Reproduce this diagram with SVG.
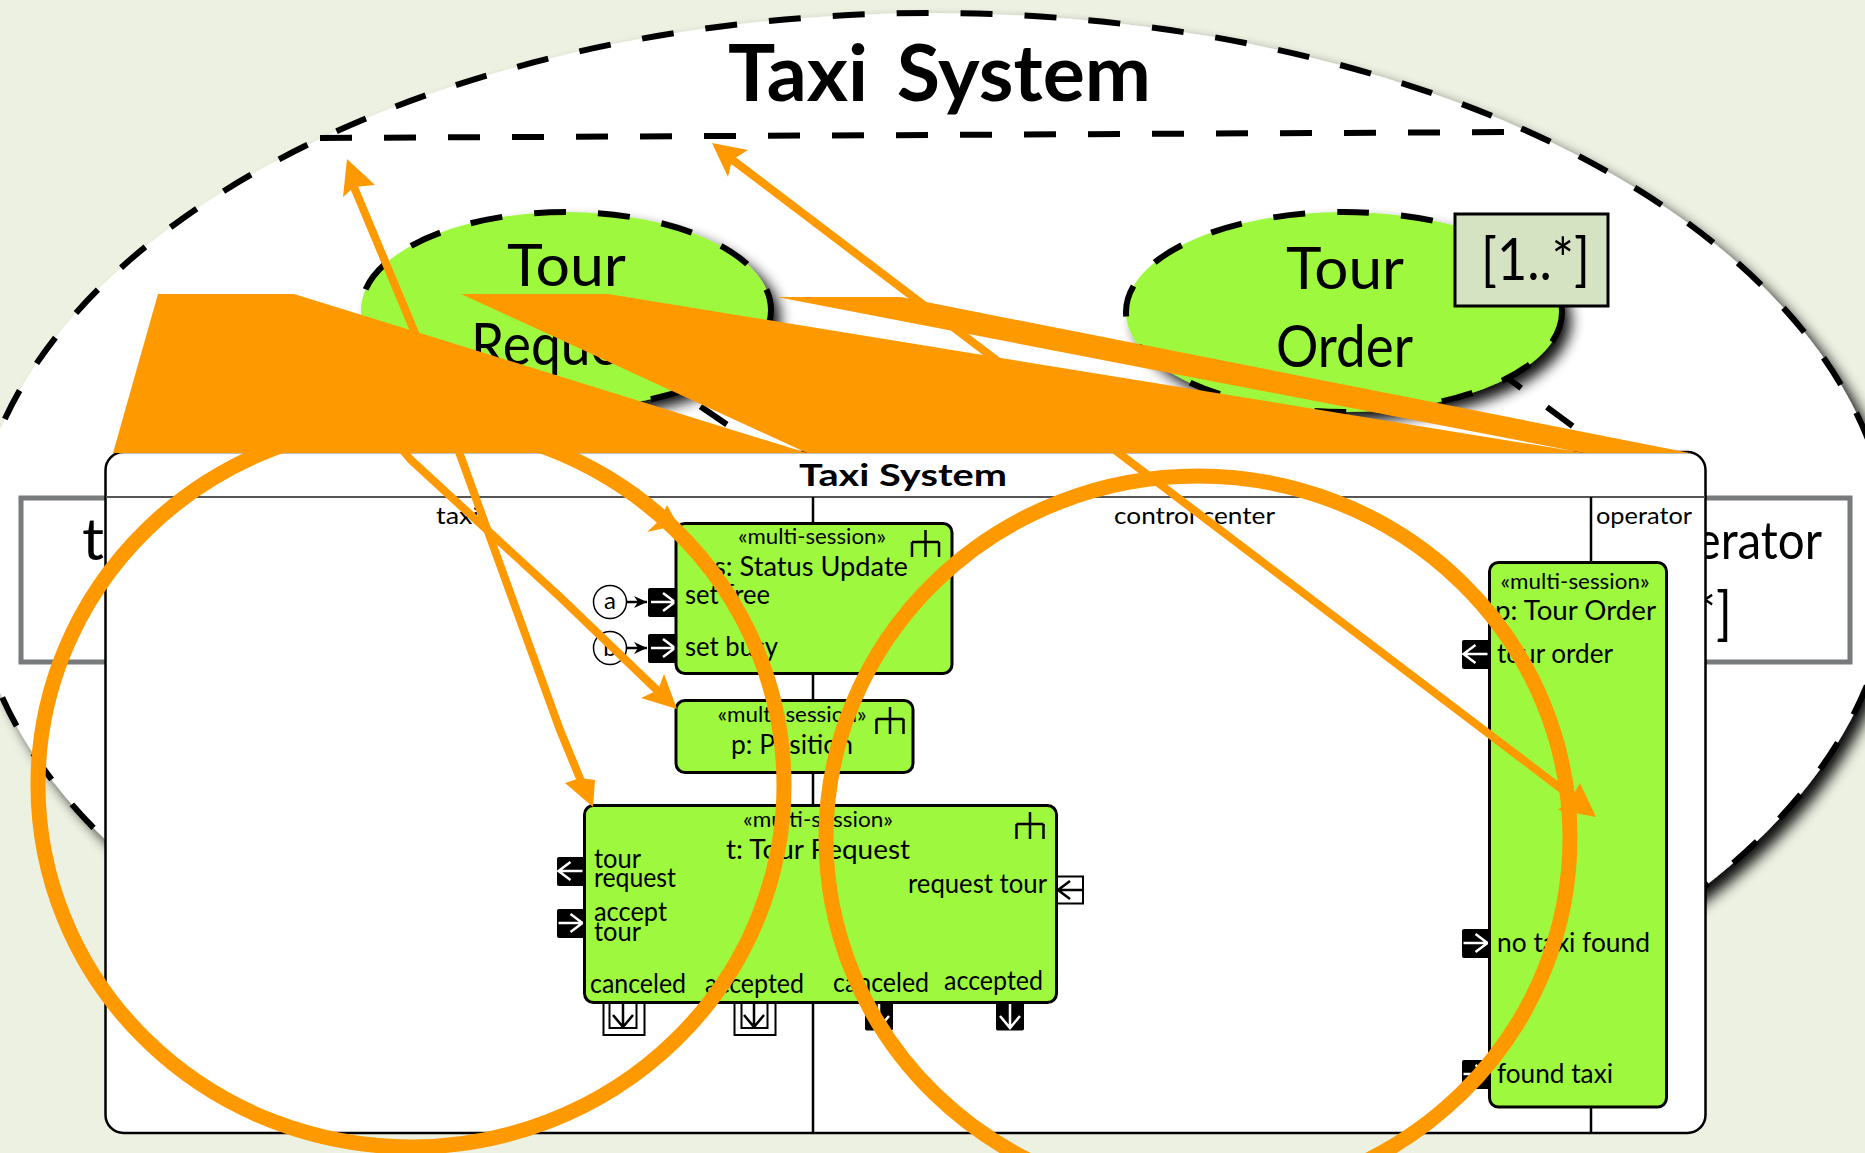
<svg xmlns="http://www.w3.org/2000/svg" width="1865" height="1153" viewBox="0 0 1865 1153">
<style>
text{font-family:"Lato","Liberation Sans",sans-serif;fill:#000}
.big{font-size:58px;transform:translateY(3px)}
.mid{font-size:30px}
.lab{font-size:27px;transform:translateY(1px)}
.st{font-size:22px;text-anchor:middle;transform:translateY(.5px)}
.dash{fill:none;stroke:#000;stroke-width:6;stroke-dasharray:32 32}
.box{fill:#9ef83e;stroke:#000;stroke-width:3}
.gray{fill:#fff;stroke:#777b7b;stroke-width:5}
.lane{stroke:#000;stroke-width:2.5;fill:none}
.icon{stroke:#000;stroke-width:2.5;fill:none}
.or{fill:#ff9900;stroke:none}
.ol{fill:none;stroke:#ff9900;stroke-width:8}
.oc{fill:none;stroke:#ff9900;stroke-width:15}
.w{fill:none;stroke:#fff;stroke-width:2.5}
.k{fill:none;stroke:#000;stroke-width:2.5}
.pb{fill:#000;stroke:#000;stroke-width:1}
.pw{fill:#fff;stroke:#000;stroke-width:2}
</style>
<defs>
<filter id="sh" x="-10%" y="-10%" width="125%" height="125%"><feGaussianBlur in="SourceAlpha" stdDeviation="7"/><feOffset dx="9" dy="9"/><feComponentTransfer><feFuncA type="linear" slope="0.95"/></feComponentTransfer><feMerge><feMergeNode/><feMergeNode in="SourceGraphic"/></feMerge></filter>
<marker id="sm" markerUnits="userSpaceOnUse" markerWidth="14" markerHeight="12" refX="13" refY="6" orient="auto"><path d="M0,0L13,6L0,12L4,6Z" fill="#000"/></marker>
<g id="ar"><path d="M-12,0H12M0,-9L12,0L0,9"/></g>
<g id="al"><path d="M12,0H-12M0,-9L-12,0L0,9"/></g>
<g id="ad"><path d="M0,-12V12M-10,0L0,12L10,0"/></g>
<g id="ic"><path d="M0,0V27M-13.500,12H13.500M-13.500,27V12M13.500,27V12"/></g>
</defs>
<rect width="1865" height="1153" fill="#ecf1e2"/>
<g id="system-ellipse">
<ellipse cx="932" cy="561" rx="960" ry="548" fill="#fff" filter="url(#sh)"/>
<ellipse cx="932" cy="561" rx="960" ry="548" class="dash"/>
<path class="dash" d="M320,138L1523,132"/>
<text x="728" y="101" font-size="78" font-weight="700" textLength="423" lengthAdjust="spacingAndGlyphs" style="word-spacing:.12em">Taxi System</text>
</g>
<g id="decomposition-lines">
<path class="dash" d="M595,334L745,437"/>
<path class="dash" d="M1444,331L1590,439"/>
</g>
<g id="tour-request-usecase">
<ellipse cx="566" cy="310" rx="205" ry="98" fill="#9ef83e" filter="url(#sh)"/>
<ellipse cx="566" cy="310" rx="205" ry="98" class="dash"/>
<text class="big" x="507" y="283" textLength="119" lengthAdjust="spacingAndGlyphs">Tour</text>
<text class="big" x="471" y="362" textLength="190" lengthAdjust="spacingAndGlyphs">Request</text>
</g>
<g id="tour-order-usecase">
<ellipse cx="1344" cy="312" rx="218" ry="100" fill="#9ef83e" filter="url(#sh)"/>
<ellipse cx="1344" cy="312" rx="218" ry="100" class="dash"/>
<text class="big" x="1286" y="286" textLength="118" lengthAdjust="spacingAndGlyphs">Tour</text>
<text class="big" x="1276" y="364" textLength="137" lengthAdjust="spacingAndGlyphs">Order</text>
<rect x="1455" y="214" width="153" height="92" fill="#d5e3c3" stroke="#000" stroke-width="3"/>
<text class="big" x="1481" y="277" textLength="109" lengthAdjust="spacingAndGlyphs">[1..*]</text>
</g>
<g id="taxi-actor">
<rect class="gray" x="21" y="498" width="300" height="164"/>
<text class="big" x="82" y="557" textLength="98" lengthAdjust="spacingAndGlyphs">taxi</text>
</g>
<g id="operator-actor">
<rect class="gray" x="1560" y="498" width="290" height="164"/>
<text class="big" x="1642" y="556" style="font-size:52px" textLength="180" lengthAdjust="spacingAndGlyphs">operator</text>
<text class="big" x="1623" y="631" textLength="109" lengthAdjust="spacingAndGlyphs">[1..*]</text>
</g>
<g id="swimlane-frame">
<rect x="105.500" y="452" width="1600" height="681" rx="18" fill="#fff" stroke="#000" stroke-width="2.500"/>
<path d="M106,497H1705" stroke="#555" stroke-width="2" fill="none"/>
<path class="lane" d="M813,497V1133M1591,497V1133"/>
<text class="mid" x="799" y="486" font-weight="700" font-size="33" textLength="208" lengthAdjust="spacingAndGlyphs">Taxi System</text>
<text class="lab" style="font-size:24px" x="436" y="523" textLength="43" lengthAdjust="spacingAndGlyphs">taxi</text>
<text class="lab" style="font-size:24px" x="1114" y="523" textLength="161" lengthAdjust="spacingAndGlyphs">control center</text>
<text class="lab" style="font-size:24px" x="1596" y="523" textLength="96" lengthAdjust="spacingAndGlyphs">operator</text>
</g>
<g id="status-update">
<rect class="pb" x="648.500" y="588.500" width="28" height="28" rx="1"/><use href="#ar" class="w" x="663" y="602"/>
<rect class="pb" x="648.500" y="634.500" width="28" height="28" rx="1"/><use href="#ar" class="w" x="663" y="648"/>
<rect class="box" x="676" y="523.500" width="276" height="150" rx="9"/>
<text class="st" x="812" y="543" textLength="148" lengthAdjust="spacingAndGlyphs">«multi-session»</text>
<text class="lab" x="714" y="575" textLength="194" lengthAdjust="spacingAndGlyphs">s: Status Update</text>
<text class="lab" x="685" y="603" textLength="85" lengthAdjust="spacingAndGlyphs">set free</text>
<text class="lab" x="685" y="655" textLength="93" lengthAdjust="spacingAndGlyphs">set busy</text>
<use href="#ic" class="icon" x="925.500" y="530"/>
</g>
<g id="input-a"><circle cx="610" cy="602" r="16.500" fill="#fff" stroke="#000" stroke-width="1.500"/><text class="lab" style="font-size:24px;text-anchor:middle" x="610" y="608">a</text></g>
<g id="input-b"><circle cx="610" cy="648" r="16.500" fill="#fff" stroke="#000" stroke-width="1.500"/><text class="lab" style="font-size:24px;text-anchor:middle" x="610" y="655">b</text></g>
<g id="position">
<rect class="box" x="676" y="700.500" width="237" height="72" rx="9"/>
<text class="st" x="792" y="721" textLength="149" lengthAdjust="spacingAndGlyphs">«multi-session»</text>
<text class="lab" x="731" y="753" textLength="122" lengthAdjust="spacingAndGlyphs">p: Position</text>
<use href="#ic" class="icon" x="890" y="707"/>
</g>
<g id="tour-request">
<rect class="pb" x="557.500" y="857.500" width="27" height="28" rx="1"/><use href="#al" class="w" x="570.500" y="871"/>
<rect class="pb" x="557.500" y="909.500" width="27" height="28" rx="1"/><use href="#ar" class="w" x="570.500" y="923"/>
<rect class="pw" x="1057" y="876.500" width="26" height="27"/><use href="#al" class="k" x="1070" y="890"/>
<rect class="pw" x="603.500" y="998" width="41" height="37"/><rect class="pw" x="609.500" y="998" width="27" height="30"/><use href="#ad" class="k" x="623" y="1015"/>
<rect class="pw" x="734.500" y="998" width="41" height="37"/><rect class="pw" x="741.500" y="998" width="26" height="30"/><use href="#ad" class="k" x="754" y="1015"/>
<rect class="pb" x="865.500" y="998" width="27" height="32" rx="1"/><use href="#ad" class="w" x="879" y="1016"/>
<rect class="pb" x="996.500" y="998" width="27" height="32" rx="1"/><use href="#ad" class="w" x="1010" y="1016"/>
<rect class="box" x="584.500" y="805.500" width="472" height="197" rx="9"/>
<text class="st" x="818" y="826" textLength="150" lengthAdjust="spacingAndGlyphs">«multi-session»</text>
<text class="lab" x="726" y="858" textLength="184" lengthAdjust="spacingAndGlyphs">t: Tour Request</text>
<text class="lab" x="594" y="867" textLength="47" lengthAdjust="spacingAndGlyphs">tour</text>
<text class="lab" x="594" y="886" textLength="82" lengthAdjust="spacingAndGlyphs">request</text>
<text class="lab" x="594" y="920" textLength="73" lengthAdjust="spacingAndGlyphs">accept</text>
<text class="lab" x="594" y="940" textLength="47" lengthAdjust="spacingAndGlyphs">tour</text>
<text class="lab" x="908" y="892" textLength="139" lengthAdjust="spacingAndGlyphs">request tour</text>
<text class="lab" x="590" y="992" textLength="96" lengthAdjust="spacingAndGlyphs">canceled</text>
<text class="lab" x="705" y="992" textLength="99" lengthAdjust="spacingAndGlyphs">accepted</text>
<text class="lab" x="833" y="991" textLength="96" lengthAdjust="spacingAndGlyphs">canceled</text>
<text class="lab" x="944" y="989" textLength="99" lengthAdjust="spacingAndGlyphs">accepted</text>
<use href="#ic" class="icon" x="1030" y="812"/>
</g>
<g id="tour-order">
<rect class="pb" x="1462.500" y="640.500" width="27" height="28" rx="1"/><use href="#al" class="w" x="1475.500" y="654"/>
<rect class="pb" x="1462.500" y="929.500" width="27" height="28" rx="1"/><use href="#ar" class="w" x="1475.500" y="943"/>
<rect class="pb" x="1462.500" y="1060.500" width="27" height="28" rx="1"/><use href="#ar" class="w" x="1475.500" y="1074"/>
<rect class="box" x="1489.500" y="562.500" width="177" height="544.500" rx="9"/>
<text class="st" x="1575" y="588" textLength="149" lengthAdjust="spacingAndGlyphs">«multi-session»</text>
<text class="lab" x="1495" y="619" textLength="161" lengthAdjust="spacingAndGlyphs">p: Tour Order</text>
<text class="lab" x="1497" y="662" textLength="116" lengthAdjust="spacingAndGlyphs">tour order</text>
<text class="lab" x="1497" y="951" textLength="153" lengthAdjust="spacingAndGlyphs">no taxi found</text>
<text class="lab" x="1497" y="1082" textLength="116" lengthAdjust="spacingAndGlyphs">found taxi</text>
</g>
<g id="connectors">
<path class="k" d="M627,602H647" marker-end="url(#sm)"/>
<path class="k" d="M627,648H647" marker-end="url(#sm)"/>
<polygon class="or" points="158,294 294,294 807,453 113,453"/>
<polygon class="or" points="461,294 608,294 1585,453 807,453"/>
<polygon class="or" points="777,297 901,297 1690,453 1584,453"/>
<ellipse class="oc" cx="411" cy="785" rx="373" ry="362"/>
<ellipse class="oc" cx="1198" cy="838" rx="372" ry="362"/>
<path class="ol" d="M354,187L415,333L462,460L560,730L581,781"/>
<polygon class="or" points="347,159 375,185 354,187 343,197"/>
<polygon class="or" points="593,807 565,783 580,778 595,780"/>
<path class="ol" d="M730,158L1580,803"/>
<polygon class="or" points="712,143 748,150 732,160 728,177"/>
<polygon class="or" points="1596,817 1580,783 1572,797 1558,810"/>
<path class="ol" d="M395,441L411,460L560,597L660,693"/>
<polygon class="or" points="677,709 664,674 658,690 641,698"/>
<polygon class="or" points="678,525 667,505 660,520 647,532"/>
</g>
</svg>
